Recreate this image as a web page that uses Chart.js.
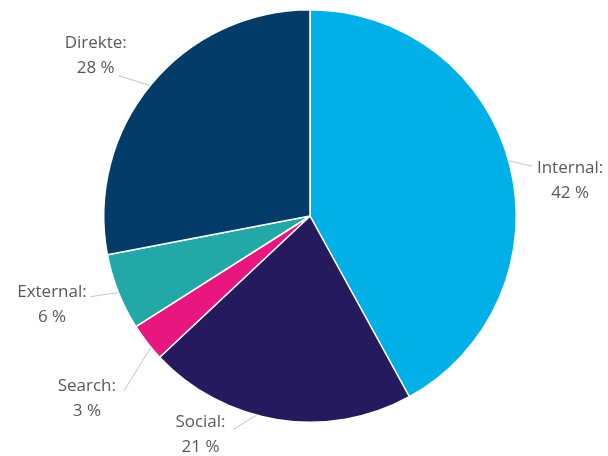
<!DOCTYPE html>
<html>
<head>
<meta charset="utf-8">
<script src="https://cdn.jsdelivr.net/npm/chart.js@4"></script>
<style>
  body { margin: 0; background: #fff; }
  canvas { display: block; }
</style>
</head>
<body>
<canvas id="myChart" width="608" height="456"></canvas>
<script>
const labels = ['Internal', 'Social', 'Search', 'External', 'Direkte'];
const shares = [42, 21, 3, 6, 28];
const colors = ['#00b0e6', '#261a5e', '#e8177f', '#23a8a8', '#033c68'];

// where each label sits, in units of the pie radius from its centre
const labelLayout = [
  { angle: 74.5,  end: [1.077, -0.242], text: [1.261, -0.232] },
  { angle: 195,   end: [-0.372, 1.034], text: [-0.531, 1.0] },
  { angle: 230.5, end: [-0.903, 0.850], text: [-1.082, 0.826] },
  { angle: 248.2, end: [-1.063, 0.391], text: [-1.251, 0.367] },
  { angle: 309.2, end: [-0.928, -0.681], text: [-1.039, -0.836] }
];

const outsideLabels = {
  id: 'outsideLabels',
  afterDraw(chart) {
    const c = chart.ctx;
    const arcs = chart.getDatasetMeta(0).data;
    c.save();
    arcs.forEach((arc, i) => {
      const L = labelLayout[i];
      const r = arc.outerRadius, cx = arc.x, cy = arc.y;
      const a = L.angle * Math.PI / 180;
      c.strokeStyle = '#c4c4c4';
      c.lineWidth = 1;
      c.beginPath();
      c.moveTo(cx + r * Math.sin(a), cy - r * Math.cos(a));
      c.lineTo(cx + r * L.end[0], cy + r * L.end[1]);
      c.stroke();
      c.fillStyle = '#595959';
      c.font = '17px "Open Sans"';
      c.textAlign = 'center';
      c.textBaseline = 'middle';
      const tx = cx + r * L.text[0], ty = cy + r * L.text[1];
      c.fillText(labels[i] + ':', tx, ty);
      c.fillText(shares[i] + ' %', tx, ty + 25);
    });
    c.restore();
  }
};

const ctx = document.getElementById('myChart');
new Chart(ctx, {
  type: 'pie',
  data: {
    labels: labels,
    datasets: [{
      data: shares,
      backgroundColor: colors,
      borderColor: '#ffffff',
      borderWidth: 1.5
    }]
  },
  options: {
    responsive: false,
    animation: false,
    layout: { padding: { top: 9, bottom: 33, left: 103, right: 91 } },
    plugins: {
      legend: { display: false },
      tooltip: { enabled: false }
    }
  },
  plugins: [outsideLabels]
});
</script>
</body>
</html>
